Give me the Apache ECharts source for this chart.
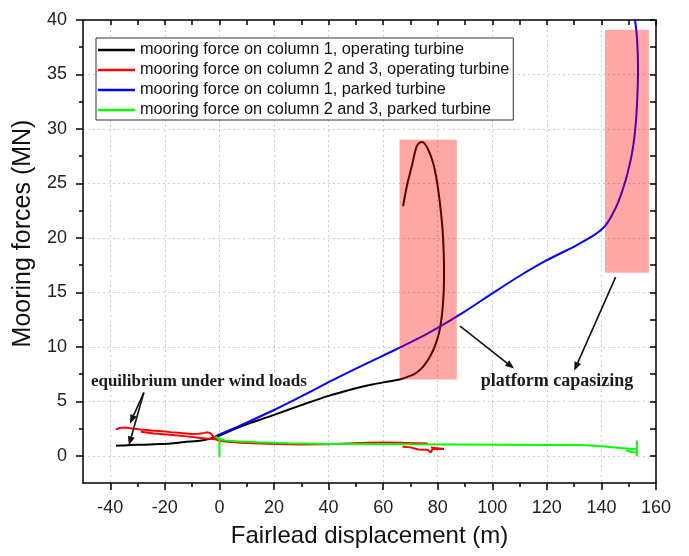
<!DOCTYPE html>
<html>
<head>
<meta charset="utf-8">
<script src="https://cdn.jsdelivr.net/npm/echarts@6/dist/echarts.min.js"></script>
<style>
  html, body { margin: 0; padding: 0; background: #ffffff; }
  #chart { width: 689px; height: 556px; }
</style>
</head>
<body>
<div id="chart"></div>
<script>
// Axis ticks
const xMajorTicks = [-40, -20, 0, 20, 40, 60, 80, 100, 120, 140, 160];
const xMinorTicks = [-30, -10, 10, 30, 50, 70, 90, 110, 130, 150];
const yMajorTicks = [0, 5, 10, 15, 20, 25, 30, 35, 40];
const yMinorTicks = [2.5, 7.5, 12.5, 17.5, 22.5, 27.5, 32.5, 37.5];

// Series names
const nameOpCol1 = 'mooring force on column 1, operating turbine';
const nameOpCol23 = 'mooring force on column 2 and 3, operating turbine';
const nameParkCol1 = 'mooring force on column 1, parked turbine';
const nameParkCol23 = 'mooring force on column 2 and 3, parked turbine';

// Column 1, operating turbine: [displacement m, force MN]
const opCol1 = [
  [-37.9, 0.92], [-35, 0.95], [-32.4, 0.98], [-28, 1.02], [-22.6, 1.07], [-18, 1.13],
  [-12.9, 1.26], [-8, 1.36], [-5.6, 1.44], [-1.6, 1.7], [0, 1.85], [8, 2.7],
  [20, 3.75], [30, 4.65], [40, 5.5], [50, 6.2], [56, 6.55], [62, 6.82],
  [66, 7.0], [69, 7.25], [71.4, 7.5], [74, 8.0], [76.3, 8.75], [78, 9.5],
  [79.3, 10.3], [80.5, 11.3], [81.4, 12.6], [82.0, 14.2], [82.3, 16.1], [82.3, 17.6],
  [82.1, 19.2], [81.8, 20.7], [81.2, 22.3], [80.5, 23.8], [79.7, 25.2], [78.7, 26.5],
  [77.5, 27.5], [76.3, 28.2], [75.2, 28.65], [74.1, 28.8], [73.2, 28.7], [72.3, 28.4],
  [71.5, 27.7], [70.8, 26.9], [69.9, 26.0], [68.9, 25.0], [68.1, 24.0], [67.3, 22.9]
];

// Columns 2 and 3, operating turbine (three strands)
const opCol23Main = [
  [-38, 2.42], [-36.5, 2.55], [-34.5, 2.6], [-32, 2.5], [-29, 2.42], [-25, 2.32],
  [-21, 2.25], [-17.8, 2.17], [-14, 2.08], [-10.4, 2.0], [-7.5, 2.02], [-5.5, 2.1],
  [-4.3, 2.15], [-3.2, 2.05], [-2.5, 1.84], [-1.5, 1.62], [-0.7, 1.42], [2, 1.3],
  [7.9, 1.2], [15, 1.12], [22, 1.07], [28.6, 1.03], [40, 1.05], [54, 1.2],
  [60, 1.21], [66, 1.19], [72, 1.16], [76.3, 1.13]
];
const opCol23Lower = [
  [-28.8, 2.2], [-24, 2.05], [-18, 1.92], [-12, 1.78], [-6.8, 1.63], [-3, 1.55], [-1, 1.5]
];
const opCol23Tail = [
  [67.1, 0.83], [70.1, 0.77], [72.8, 0.58], [76.3, 0.55], [77.5, 0.31], [78.1, 0.62],
  [82.3, 0.62], [81.8, 0.77], [77.5, 0.77]
];

// Column 1, parked turbine
const parkCol1 = [
  [-1.5, 1.75], [0, 1.95], [10, 3.05], [20, 4.2], [30, 5.45], [40, 6.75],
  [50, 8.0], [60, 9.2], [70, 10.4], [80, 11.75], [90, 13.25], [100, 14.9],
  [110, 16.5], [120, 17.95], [130, 19.2], [137, 20.2], [139.5, 20.65], [141.5, 21.15],
  [143, 21.7], [144.5, 22.4], [146, 23.2], [147.5, 24.2], [149, 25.4], [150.3, 26.7],
  [151.3, 27.9], [152.2, 29.5], [152.8, 31.2], [153.2, 33.2], [153.4, 35.1], [153.3, 37],
  [152.9, 38.8], [152.3, 40], [152, 40.6]
];

// Columns 2 and 3, parked turbine (main trace plus start/end transients)
const parkCol23Main = [
  [-1.5, 1.75], [0, 1.55], [2, 1.4], [6, 1.33], [14, 1.23], [25, 1.15],
  [40, 1.09], [48, 1.08], [70, 1.05], [90, 1.03], [102, 1.01], [120, 0.99],
  [132, 0.98], [138, 0.92], [142, 0.83], [147, 0.72], [152, 0.62], [153, 0.6]
];
const parkCol23Start = [[0, 1.75], [0, -0.15]];
const parkCol23End = [[153, 1.4], [153, -0.05]];
const parkCol23Hook = [[149, 0.5], [151, 0.35], [153, 0.3]];

// Shaded capsizing zones: [xStart, xEnd, yStart, yEnd]
const capsizeZones = [
  [66, 87, 7, 29],
  [141.3, 157.4, 16.8, 39.1]
];

// Annotation texts and arrows, in data units
const equilibriumLabel = { text: 'equilibrium under wind loads', at: [-47.1, 6.8], size: 17 };
const capsizeLabel = { text: 'platform capasizing', at: [95.8, 6.8], size: 18 };
const annotationArrows = [
  [[-27.7, 5.8], [-32.8, 2.95]],
  [[-27.7, 5.8], [-33.2, 0.95]],
  [[88.2, 11.9], [108, 8.0]],
  [[145.2, 16.4], [130, 7.8]]
];

const AXIS_FONT = 'Liberation Sans, Arial, sans-serif';
const frameLine = { color: '#000', width: 1.5 };
const gridDash = { type: [2, 3], color: '#cdcdcd', width: 1 };

function lineSeries(name, data, color, smooth) {
  return {
    type: 'line', name: name, data: data,
    xAxisIndex: 0, yAxisIndex: 0,
    showSymbol: false, symbol: 'none',
    smooth: smooth || false,
    lineStyle: { color: color, width: 2 },
    itemStyle: { color: color },
    z: 2, silent: true, clip: true
  };
}

const chart = echarts.init(document.getElementById('chart'), null, { renderer: 'canvas' });

const option = {
  animation: false,
  backgroundColor: '#ffffff',
  grid: { left: 83, right: 33, top: 20, bottom: 73, containLabel: false },
  legend: {
    data: [nameOpCol1, nameOpCol23, nameParkCol1, nameParkCol23],
    orient: 'vertical',
    left: 96, top: 38,
    icon: 'rect',
    itemWidth: 37, itemHeight: 2.5, itemGap: 4,
    padding: [4, 4, 2, 2],
    backgroundColor: '#ffffff',
    borderColor: '#333', borderWidth: 1, borderRadius: 0,
    selectedMode: false,
    textStyle: { fontSize: 16.3, color: '#111', fontFamily: AXIS_FONT, lineHeight: 16 }
  },
  xAxis: [
    {
      type: 'value', min: -50, max: 160, splitNumber: 10, position: 'bottom',
      axisLine: { onZero: false, lineStyle: frameLine },
      axisTick: { show: true, inside: false, length: 7, customValues: xMajorTicks, lineStyle: frameLine },
      axisLabel: { customValues: xMajorTicks, margin: 16, fontSize: 18, color: '#222', fontFamily: AXIS_FONT },
      splitLine: { show: true, lineStyle: gridDash },
      name: 'Fairlead displacement (m)', nameLocation: 'middle', nameGap: 41,
      nameTextStyle: { fontSize: 24, color: '#111', fontFamily: AXIS_FONT }
    },
    {
      type: 'value', min: -50, max: 160, position: 'bottom',
      axisLine: { show: false, onZero: false },
      axisTick: { show: true, inside: false, length: 4, customValues: xMinorTicks, lineStyle: frameLine },
      axisLabel: { show: false }, splitLine: { show: false }
    },
    {
      type: 'value', min: -50, max: 160, position: 'top',
      axisLine: { onZero: false, lineStyle: frameLine },
      axisTick: { show: true, inside: true, length: 5, customValues: xMajorTicks.concat(xMinorTicks), lineStyle: frameLine },
      axisLabel: { show: false }, splitLine: { show: false }
    }
  ],
  yAxis: [
    {
      type: 'value', min: -2.5, max: 40, splitNumber: 8, position: 'left',
      axisLine: { onZero: false, lineStyle: frameLine },
      axisTick: { show: true, inside: false, length: 7, customValues: yMajorTicks, lineStyle: frameLine },
      axisLabel: { customValues: yMajorTicks, margin: 16, fontSize: 18, color: '#222', fontFamily: AXIS_FONT },
      splitLine: { show: true, lineStyle: gridDash },
      name: 'Mooring forces (MN)', nameLocation: 'middle', nameGap: 40,
      nameTextStyle: { fontSize: 25, color: '#111', fontFamily: AXIS_FONT, padding: [0, 0, 0, 36] }
    },
    {
      type: 'value', min: -2.5, max: 40, position: 'left',
      axisLine: { show: false, onZero: false },
      axisTick: { show: true, inside: false, length: 4, customValues: yMinorTicks, lineStyle: frameLine },
      axisLabel: { show: false }, splitLine: { show: false }
    },
    {
      type: 'value', min: -2.5, max: 40, position: 'right',
      axisLine: { onZero: false, lineStyle: frameLine },
      axisTick: { show: true, inside: true, length: 6, customValues: yMajorTicks.concat(yMinorTicks), lineStyle: frameLine },
      axisLabel: { show: false }, splitLine: { show: false }
    }
  ],
  series: [
    lineSeries(nameOpCol1, opCol1, '#000000', 0.3),
    lineSeries(nameOpCol23, opCol23Main, '#ff0000'),
    lineSeries(nameOpCol23, opCol23Lower, '#ff0000'),
    lineSeries(nameOpCol23, opCol23Tail, '#ff0000'),
    lineSeries(nameParkCol1, parkCol1, '#0000ff', 0.3),
    lineSeries(nameParkCol23, parkCol23Main, '#00ff00'),
    lineSeries(nameParkCol23, parkCol23Start, '#00ff00'),
    lineSeries(nameParkCol23, parkCol23End, '#00ff00'),
    lineSeries(nameParkCol23, parkCol23Hook, '#00ff00'),
    {
      type: 'custom', name: 'zones', data: capsizeZones,
      xAxisIndex: 0, yAxisIndex: 0, z: 5, silent: true, clip: true,
      encode: { x: [0, 1], y: [2, 3] },
      renderItem: function (params, api) {
        const p0 = api.coord([api.value(0), api.value(3)]);
        const p1 = api.coord([api.value(1), api.value(2)]);
        return {
          type: 'rect',
          shape: { x: p0[0], y: p0[1], width: p1[0] - p0[0], height: p1[1] - p0[1] },
          style: { fill: 'rgba(255, 0, 0, 0.35)' }
        };
      }
    }
  ]
};

chart.setOption(option);

// Annotation layer placed through the grid's coordinate system
function px(pt) { return chart.convertToPixel({ xAxisIndex: 0, yAxisIndex: 0 }, pt); }

function arrowGraphics(from, to) {
  const a = px(from), b = px(to);
  const dx = b[0] - a[0], dy = b[1] - a[1];
  const len = Math.sqrt(dx * dx + dy * dy);
  const ux = dx / len, uy = dy / len;
  const headLen = 9, headHalf = 3.5;
  const bx = b[0] - ux * headLen, by = b[1] - uy * headLen;
  return [
    { type: 'line', z: 20, silent: true,
      shape: { x1: a[0], y1: a[1], x2: bx, y2: by },
      style: { stroke: '#111', lineWidth: 1.6 } },
    { type: 'polygon', z: 20, silent: true,
      shape: { points: [[b[0], b[1]], [bx - uy * headHalf, by + ux * headHalf], [bx + uy * headHalf, by - ux * headHalf]] },
      style: { fill: '#111' } }
  ];
}

function labelGraphic(label) {
  const p = px(label.at);
  return {
    type: 'text', z: 20, silent: true, x: p[0], y: p[1],
    style: {
      text: label.text, fill: '#1a1a1a',
      font: 'bold ' + label.size + 'px "Liberation Serif", "Times New Roman", serif',
      textAlign: 'left', textVerticalAlign: 'middle'
    }
  };
}

let annotations = [labelGraphic(equilibriumLabel), labelGraphic(capsizeLabel)];
annotationArrows.forEach(function (arr) { annotations = annotations.concat(arrowGraphics(arr[0], arr[1])); });
chart.setOption({ graphic: annotations });
</script>
</body>
</html>
